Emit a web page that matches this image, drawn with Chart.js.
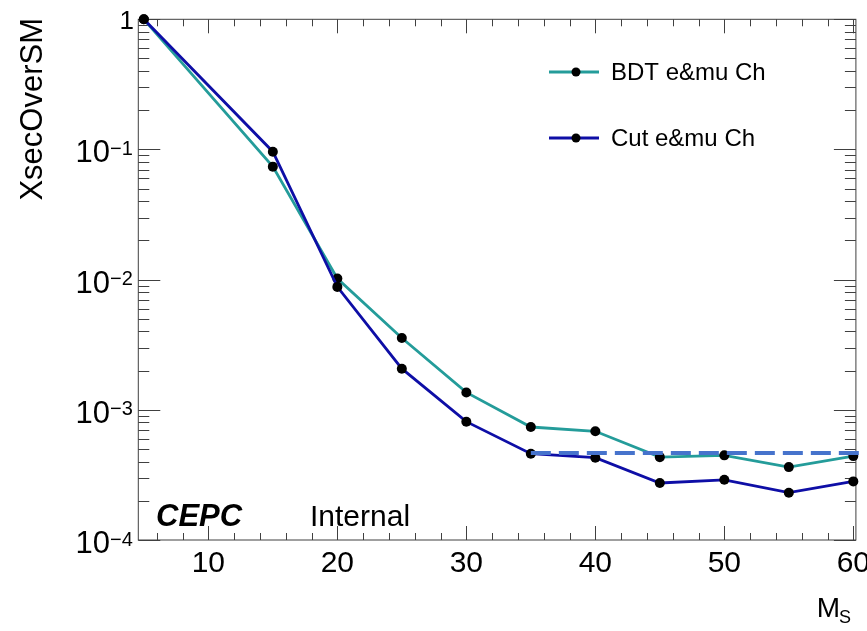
<!DOCTYPE html>
<html>
<head>
<meta charset="utf-8">
<script src="https://cdn.jsdelivr.net/npm/chart.js@4/dist/chart.umd.min.js"></script>
<style>
  html, body { margin: 0; padding: 0; background: #fff; }
  #wrap { width: 867px; height: 631px; }
</style>
</head>
<body>
<div id="wrap"><canvas id="c" width="867" height="631"></canvas></div>
<script>
// ---------- Values ----------
const massPoints = [5, 15, 20, 25, 30, 35, 40, 45, 50, 55, 60];
const bdtXsec = [1.0, 0.0738, 0.0102, 3.56e-3, 1.36e-3, 7.38e-4, 6.84e-4, 4.33e-4, 4.47e-4, 3.63e-4, 4.41e-4];
const cutXsec = [1.0, 0.0962, 0.0088, 2.07e-3, 8.11e-4, 4.60e-4, 4.29e-4, 2.74e-4, 2.90e-4, 2.31e-4, 2.82e-4];

// dashed reference level, drawn from M_S = 35 out past the frame
const limitLevel = 4.66e-4;
const limitRange = [35, 61];

// axis ticks
const xTickValues = [10, 20, 30, 40, 50, 60];
const xTickLabels = ["10", "20", "30", "40", "50", "60"];
const yTickValues = [1e-4, 1e-3, 1e-2, 1e-1, 1];
const yTickExponents = ["\u22124", "\u22123", "\u22122", "\u22121", ""];

const seriesNames = ["BDT e&mu Ch", "Cut e&mu Ch"];
const seriesColors = ["#249c9a", "#0e0ea6"];

const FONT = '"Liberation Sans", Arial, Helvetica, sans-serif';

// ---------- ROOT style frame, ticks, labels, legend ----------
const rootFrame = {
    id: "rootFrame",
    beforeDatasetsDraw(chart) {
        const { ctx, chartArea: a, scales: { x, y } } = chart;
        ctx.save();

        // frame
        ctx.strokeStyle = "#404040";
        ctx.lineWidth = 1;
        ctx.strokeRect(a.left, a.top, a.right - a.left, a.bottom - a.top);

        // x ticks, bottom and top, pointing inside
        ctx.beginPath();
        for (let v = 6; v <= 60; v += 2) {
            const px = Math.round(x.getPixelForValue(v)) + 0.5;
            const len = (v % 10 === 0) ? 14 : 7;
            ctx.moveTo(px, a.bottom); ctx.lineTo(px, a.bottom - len);
            ctx.moveTo(px, a.top);    ctx.lineTo(px, a.top + len);
        }
        // y ticks (log), left and right
        for (let d = -4; d <= 0; d++) {
            for (let m = 1; m <= 9; m++) {
                const v = m * Math.pow(10, d);
                if (v > 1.0001) break;
                const py = Math.round(y.getPixelForValue(v)) + 0.5;
                const len = (m === 1) ? 22 : 11;
                ctx.moveTo(a.left, py);  ctx.lineTo(a.left + len, py);
                ctx.moveTo(a.right, py); ctx.lineTo(a.right - len, py);
            }
        }
        ctx.stroke();

        ctx.fillStyle = "#000";

        // x tick labels
        ctx.font = "30px " + FONT;
        ctx.textAlign = "center";
        ctx.textBaseline = "alphabetic";
        xTickValues.forEach((v, i) => {
            ctx.fillText(xTickLabels[i], x.getPixelForValue(v), 572);
        });

        // y tick labels: 10 with superscript exponent
        yTickValues.forEach((v, i) => {
            const py = y.getPixelForValue(v);
            if (yTickExponents[i] === "") {
                ctx.font = "26px " + FONT;
                ctx.textAlign = "right";
                ctx.fillText("1", 134, py + 10);
                return;
            }
            ctx.font = "31px " + FONT;
            ctx.textAlign = "right";
            ctx.fillText("10", 110, py + 13);
            ctx.font = "20px " + FONT;
            ctx.textAlign = "left";
            ctx.fillText(yTickExponents[i], 110, py + 5.5);
        });

        // axis titles
        ctx.font = "28px " + FONT;
        ctx.textAlign = "right";
        ctx.fillText("M", 840, 617);
        ctx.font = "18px " + FONT;
        ctx.textAlign = "left";
        ctx.fillText("S", 839, 623);

        ctx.save();
        ctx.translate(42, 18);
        ctx.rotate(-Math.PI / 2);
        ctx.font = "31px " + FONT;
        ctx.textAlign = "right";
        ctx.fillText("XsecOverSM", 0, 0);
        ctx.restore();

        // CEPC Internal
        ctx.textAlign = "left";
        ctx.font = "italic bold 31px " + FONT;
        ctx.fillText("CEPC", 156, 526);
        ctx.font = "30px " + FONT;
        ctx.fillText("Internal", 310, 526);

        // legend
        const legendY = [72, 138];
        seriesNames.forEach((name, i) => {
            ctx.strokeStyle = seriesColors[i];
            ctx.lineWidth = 3;
            ctx.beginPath();
            ctx.moveTo(549, legendY[i]);
            ctx.lineTo(599, legendY[i]);
            ctx.stroke();
            ctx.fillStyle = "#000";
            ctx.beginPath();
            ctx.arc(576, legendY[i], 4.5, 0, Math.PI * 2);
            ctx.fill();
            ctx.font = "24px " + FONT;
            ctx.textAlign = "left";
            ctx.textBaseline = "middle";
            ctx.fillText(name, 611, legendY[i] + 1);
        });

        ctx.restore();
    }
};

// ---------- Chart ----------
const ctx = document.getElementById("c");
new Chart(ctx, {
    type: "line",
    data: {
        datasets: [
            {
                label: "limit",
                data: limitRange.map(v => ({ x: v, y: limitLevel })),
                borderColor: "#4673cc",
                borderWidth: 4,
                borderDash: [20, 8],
                pointRadius: 0,
                clip: false,
                order: 0
            },
            {
                label: seriesNames[1],
                data: massPoints.map((v, i) => ({ x: v, y: cutXsec[i] })),
                borderColor: seriesColors[1],
                borderWidth: 2.8,
                pointRadius: 5,
                pointBackgroundColor: "#000",
                pointBorderColor: "#000",
                pointBorderWidth: 0,
                clip: false,
                order: 1
            },
            {
                label: seriesNames[0],
                data: massPoints.map((v, i) => ({ x: v, y: bdtXsec[i] })),
                borderColor: seriesColors[0],
                borderWidth: 2.8,
                pointRadius: 5,
                pointBackgroundColor: "#000",
                pointBorderColor: "#000",
                pointBorderWidth: 0,
                clip: false,
                order: 2
            }
        ]
    },
    options: {
        responsive: false,
        animation: false,
        devicePixelRatio: 1,
        layout: { padding: { left: 138.3, right: 11.1, top: 19.3, bottom: 91 } },
        elements: { line: { tension: 0 } },
        plugins: { legend: { display: false }, tooltip: { enabled: false } },
        scales: {
            x: { type: "linear", min: 4.57, max: 60.2, display: false },
            y: { type: "logarithmic", min: 1e-4, max: 1, display: false }
        }
    },
    plugins: [rootFrame]
});
</script>
</body>
</html>
